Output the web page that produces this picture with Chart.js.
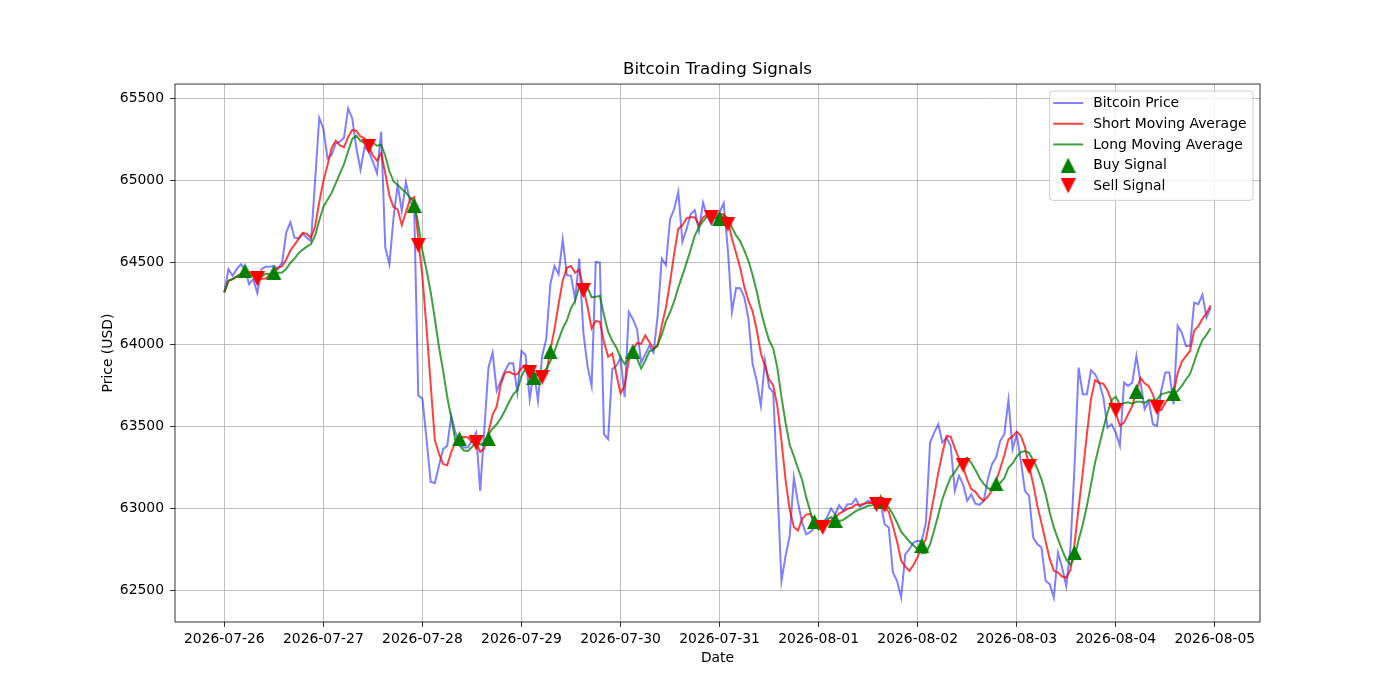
<!DOCTYPE html>
<html>
<head>
<meta charset="utf-8">
<script src="https://cdn.jsdelivr.net/npm/chart.js@4/dist/chart.umd.min.js"></script>
<style>
  body { margin: 0; background: #fff; }
</style>
</head>
<body>
<canvas id="btc_chart" width="1400" height="700"></canvas>
<script>
// tick labels, one per day (x is hours since 2026-07-26 00:00)
const dayLabels = ['2026-07-26', '2026-07-27', '2026-07-28', '2026-07-29', '2026-07-30', '2026-07-31',
  '2026-08-01', '2026-08-02', '2026-08-03', '2026-08-04', '2026-08-05']
const priceTicks = [62500, 63000, 63500, 64000, 64500, 65000, 65500]

// hourly closing price
const prices = [
  64318, 64460, 64419, 64460, 64490, 64460, 64369, 64400, 64314, 64460,
  64474, 64474, 64480, 64460, 64500, 64682, 64746, 64652, 64647, 64676,
  64652, 64631, 65000, 65383, 65318, 65136, 65157, 65227, 65237, 65262,
  65440, 65379, 65197, 65066, 65207, 65177, 65116, 65045, 65298, 64591,
  64490, 64773, 64975, 64813, 64991, 64874, 64840, 63690, 63670, 63423,
  63163, 63154, 63260, 63362, 63382, 63565, 63463, 63402, 63372, 63372,
  63413, 63463, 63108, 63480, 63860, 63951, 63717, 63778, 63839, 63886,
  63886, 63707, 63961, 63935, 63667, 63839, 63657, 63931, 64033, 64368,
  64480, 64429, 64642, 64423, 64419, 64276, 64524, 64073, 63870, 63748,
  64504, 64500, 63453, 63423, 63850, 63870, 63921, 63680, 64199, 64155,
  64094, 63890, 63941, 63992, 63951, 64175, 64525, 64484, 64765, 64826,
  64932, 64627, 64704, 64796, 64820, 64694, 64867, 64785, 64735, 64785,
  64806, 64863, 64582, 64199, 64345, 64344, 64289, 64157, 63882, 63780,
  63627, 63902, 63739, 63709, 63150, 62558, 62711, 62833, 63189, 63037,
  62914, 62843, 62857, 62884, 62894, 62914, 62945, 63000, 62965, 63020,
  62986, 63026, 63026, 63060, 63010, 63026, 63047, 63033, 63037, 63037,
  62904, 62884, 62610, 62559, 62457, 62722, 62752, 62793, 62803, 62800,
  62915, 63402, 63463, 63514, 63402, 63433, 63382, 63108, 63199, 63148,
  63047, 63087, 63030, 63023, 63047, 63179, 63270, 63311, 63413, 63453,
  63663, 63362, 63453, 63291, 63108, 63077, 62823, 62783, 62762, 62559,
  62539, 62457, 62732, 62640, 62528, 62752, 63250, 63860, 63697, 63697,
  63843, 63819, 63768, 63677, 63494, 63514, 63463, 63382, 63768, 63748,
  63768, 63931, 63768, 63606, 63657, 63514, 63504, 63717, 63829, 63829,
  63636, 64114, 64073, 63992, 63992, 64256, 64246, 64303, 64165, 64226,
]

const shortMA = [
  64318, 64389, 64399, 64414, 64429, 64458, 64440, 64436, 64407, 64401,
  64403, 64424, 64440, 64470, 64478, 64519, 64574, 64608, 64645, 64681,
  64675, 64652, 64721, 64868, 64997, 65094, 65199, 65244, 65215, 65204,
  65265, 65309, 65303, 65269, 65258, 65205, 65153, 65122, 65169, 65045,
  64908, 64839, 64825, 64728, 64808, 64885, 64899, 64642, 64413, 64099,
  63757, 63420, 63334, 63272, 63264, 63345, 63406, 63435, 63437, 63435,
  63404, 63404, 63346, 63367, 63465, 63572, 63623, 63757, 63829, 63834,
  63821, 63819, 63856, 63875, 63831, 63822, 63812, 63806, 63825, 63966,
  64094, 64248, 64390, 64468, 64479, 64438, 64457, 64343, 64232, 64098,
  64144, 64139, 64015, 63926, 63946, 63819, 63703, 63749, 63904, 63965,
  64010, 64004, 64056, 64014, 63974, 63990, 64117, 64225, 64380, 64555,
  64706, 64727, 64771, 64777, 64776, 64728, 64776, 64792, 64780, 64773,
  64796, 64795, 64754, 64647, 64559, 64467, 64352, 64267, 64203, 64090,
  63947, 63870, 63786, 63751, 63625, 63412, 63173, 62992, 62888, 62866,
  62937, 62963, 62968, 62907, 62878, 62878, 62899, 62927, 62944, 62969,
  62983, 62999, 63005, 63024, 63022, 63030, 63034, 63035, 63031, 63036,
  63012, 62979, 62894, 62799, 62683, 62646, 62620, 62657, 62705, 62774,
  62813, 62943, 63077, 63219, 63339, 63443, 63439, 63368, 63305, 63254,
  63177, 63118, 63102, 63067, 63047, 63073, 63110, 63166, 63244, 63325,
  63422, 63440, 63469, 63444, 63375, 63258, 63150, 63016, 62911, 62801,
  62693, 62620, 62610, 62585, 62579, 62622, 62780, 63006, 63217, 63451,
  63669, 63783, 63765, 63761, 63720, 63654, 63583, 63506, 63524, 63575,
  63626, 63719, 63797, 63764, 63746, 63695, 63610, 63600, 63644, 63679,
  63703, 63825, 63896, 63929, 63961, 64085, 64112, 64158, 64192, 64239,
]

const longMA = [
  64318, 64389, 64399, 64414, 64429, 64435, 64425, 64422, 64410, 64415,
  64431, 64432, 64438, 64438, 64439, 64461, 64499, 64524, 64558, 64579,
  64597, 64613, 64665, 64757, 64839, 64884, 64925, 64983, 65042, 65100,
  65179, 65254, 65274, 65242, 65231, 65235, 65231, 65213, 65219, 65152,
  65057, 64996, 64974, 64949, 64927, 64897, 64869, 64734, 64571, 64454,
  64321, 64159, 63988, 63843, 63682, 63551, 63413, 63384, 63355, 63350,
  63375, 63405, 63390, 63402, 63450, 63488, 63514, 63551, 63598, 63650,
  63697, 63721, 63807, 63852, 63833, 63822, 63816, 63831, 63850, 63898,
  63958, 64030, 64098, 64147, 64222, 64266, 64353, 64367, 64350, 64288,
  64291, 64298, 64179, 64079, 64022, 63982, 63921, 63882, 63915, 63956,
  63915, 63854, 63902, 63959, 63969, 64000, 64060, 64141, 64197, 64264,
  64348, 64422, 64498, 64579, 64665, 64717, 64752, 64782, 64779, 64775,
  64762, 64786, 64773, 64714, 64666, 64631, 64573, 64511, 64425, 64325,
  64207, 64111, 64026, 63977, 63858, 63679, 63522, 63389, 63320, 63246,
  63174, 63068, 62980, 62898, 62872, 62908, 62931, 62948, 62925, 62924,
  62931, 62949, 62966, 62984, 62995, 63006, 63017, 63020, 63027, 63029,
  63021, 63006, 62965, 62915, 62859, 62829, 62799, 62775, 62752, 62728,
  62729, 62781, 62867, 62962, 63057, 63128, 63191, 63222, 63262, 63297,
  63310, 63278, 63235, 63186, 63150, 63125, 63114, 63134, 63156, 63186,
  63248, 63275, 63317, 63344, 63350, 63340, 63295, 63243, 63178, 63088,
  62976, 62885, 62813, 62748, 62690, 62657, 62700, 62808, 62901, 63015,
  63146, 63282, 63385, 63489, 63586, 63662, 63683, 63635, 63643, 63648,
  63640, 63651, 63651, 63644, 63661, 63661, 63665, 63698, 63704, 63712,
  63699, 63717, 63748, 63787, 63820, 63894, 63968, 64027, 64061, 64100,
]

// signal markers (hour, price)
const buyHours = [5, 12, 46, 57, 64, 75, 79, 99, 120, 143, 148, 159, 169, 187, 206, 221, 230]
const buyPrices = [64450, 64440, 64850, 63425, 63425, 63800, 63955, 63960, 64770, 62920, 62930, 63040, 62775, 63150, 62730, 63715, 63700]
const sellHours = [8, 35, 47, 61, 74, 77, 87, 118, 122, 145, 158, 160, 179, 195, 216, 226]
const sellPrices = [64400, 65210, 64605, 63400, 63830, 63800, 64330, 64775, 64735, 62885, 63025, 63020, 63265, 63255, 63600, 63615]

const COLORS = {
  price: 'rgba(0, 0, 255, 0.5)',
  short: 'rgba(255, 0, 0, 0.75)',
  long: 'rgba(0, 128, 0, 0.75)',
  buy: '#008000',
  sell: '#ff0000',
}
const FONT = 'DejaVu Sans'
const LINE_W = 2

// matplotlib-like triangle marker drawn once into a small canvas
function makeMarker(color, up) {
  const s = 15
  const c = document.createElement('canvas')
  c.width = s
  c.height = s
  const g = c.getContext('2d')
  g.fillStyle = color
  g.beginPath()
  if (up) {
    g.moveTo(s / 2, 0)
    g.lineTo(s, s)
    g.lineTo(0, s)
  } else {
    g.moveTo(0, 0)
    g.lineTo(s, 0)
    g.lineTo(s / 2, s)
  }
  g.closePath()
  g.fill()
  return c
}
const buyMarker = makeMarker(COLORS.buy, true)
const sellMarker = makeMarker(COLORS.sell, false)

const toPoints = (xs, ys) => ys.map((v, i) => ({ x: xs ? xs[i] : i, y: v }))

const legendItems = [
  { text: 'Bitcoin Price', color: COLORS.price },
  { text: 'Short Moving Average', color: COLORS.short },
  { text: 'Long Moving Average', color: COLORS.long },
  { text: 'Buy Signal', marker: buyMarker },
  { text: 'Sell Signal', marker: sellMarker },
]

// axes frame + legend box in the upper right, like matplotlib
const frameAndLegend = {
  id: 'frameAndLegend',
  afterDatasetsDraw(chart) {
    const { ctx, chartArea: a } = chart
    ctx.save()
    ctx.strokeStyle = '#000'
    ctx.lineWidth = 0.8
    ctx.strokeRect(a.left, a.top, a.right - a.left, a.bottom - a.top)
    ctx.restore()
  },
  afterDraw(chart) {
    const { ctx, chartArea: a } = chart
    ctx.save()
    ctx.font = `13.9px "${FONT}"`
    let maxW = 0
    legendItems.forEach((it) => { maxW = Math.max(maxW, ctx.measureText(it.text).width) })
    const right = a.right - 7
    const top = a.top + 7
    const textX = right - 6.5 - maxW
    const left = textX - 43.5
    const rowH = 20.7
    const height = 12 + rowH * (legendItems.length - 1) + 14.5

    ctx.beginPath()
    ctx.roundRect(left, top, right - left, height, 3)
    ctx.fillStyle = 'rgba(255, 255, 255, 0.8)'
    ctx.fill()
    ctx.strokeStyle = '#cccccc'
    ctx.lineWidth = 1
    ctx.stroke()

    ctx.textBaseline = 'middle'
    ctx.fillStyle = '#000'
    legendItems.forEach((it, i) => {
      const y = top + 12 + i * rowH
      if (it.marker) {
        ctx.drawImage(it.marker, textX - 25 - it.marker.width / 2, y - it.marker.height / 2)
      } else {
        ctx.strokeStyle = it.color
        ctx.lineWidth = LINE_W
        ctx.beginPath()
        ctx.moveTo(textX - 40, y)
        ctx.lineTo(textX - 10, y)
        ctx.stroke()
      }
      ctx.fillText(it.text, textX, y + 0.5)
    })
    ctx.restore()
  },
}

Chart.defaults.font.family = FONT
Chart.defaults.font.size = 13.9
Chart.defaults.color = '#000'

const lineStyle = { borderWidth: LINE_W, pointRadius: 0, tension: 0, fill: false }

const config = {
  type: 'line',
  data: {
    datasets: [
      { label: 'Bitcoin Price', data: toPoints(null, prices), borderColor: COLORS.price, order: 5, ...lineStyle },
      { label: 'Short Moving Average', data: toPoints(null, shortMA), borderColor: COLORS.short, order: 4, ...lineStyle },
      { label: 'Long Moving Average', data: toPoints(null, longMA), borderColor: COLORS.long, order: 3, ...lineStyle },
      {
        label: 'Buy Signal', data: toPoints(buyHours, buyPrices), showLine: false, order: 2,
        pointStyle: buyMarker, pointRadius: 8, pointHoverRadius: 8,
      },
      {
        label: 'Sell Signal', data: toPoints(sellHours, sellPrices), showLine: false, order: 1,
        pointStyle: sellMarker, pointRadius: 8, pointHoverRadius: 8,
      },
    ],
  },
  options: {
    responsive: false,
    animation: false,
    events: [],
    layout: { padding: { left: 0, right: 140, top: 60, bottom: 0 } },
    plugins: {
      legend: { display: false },
      tooltip: { enabled: false },
      title: {
        display: true,
        fullSize: false,
        text: 'Bitcoin Trading Signals',
        font: { size: 16.7, weight: 'normal', lineHeight: 1.2 },
        padding: { top: 0, bottom: 4 },
        color: '#000',
      },
    },
    scales: {
      x: {
        type: 'linear',
        min: -11.95,
        max: 250.95,
        afterFit: (s) => { s.height = 78 },
        afterBuildTicks: (s) => { s.ticks = dayLabels.map((_, i) => ({ value: i * 24 })) },
        ticks: {
          autoSkip: false,
          maxRotation: 0,
          padding: 4,
          callback: (v) => dayLabels[Math.round(v / 24)],
        },
        grid: { color: '#b0b0b0', lineWidth: 0.8, tickColor: '#000', tickLength: 5, tickWidth: 0.8 },
        border: { display: false },
        title: { display: true, text: 'Date', padding: { top: 0, bottom: 33.7 } },
      },
      y: {
        type: 'linear',
        min: 62308,
        max: 65589,
        afterFit: (s) => { s.width = 175 },
        afterBuildTicks: (s) => { s.ticks = priceTicks.map((v) => ({ value: v })) },
        ticks: { padding: 6, callback: (v) => String(v) },
        grid: { color: '#b0b0b0', lineWidth: 0.8, tickColor: '#000', tickLength: 5, tickWidth: 0.8 },
        border: { display: false },
        title: { display: true, text: 'Price (USD)', padding: { top: 99.7, bottom: 0 } },
      },
    },
  },
  plugins: [frameAndLegend],
}

new Chart(document.getElementById('btc_chart'), config)
</script>
</body>
</html>
